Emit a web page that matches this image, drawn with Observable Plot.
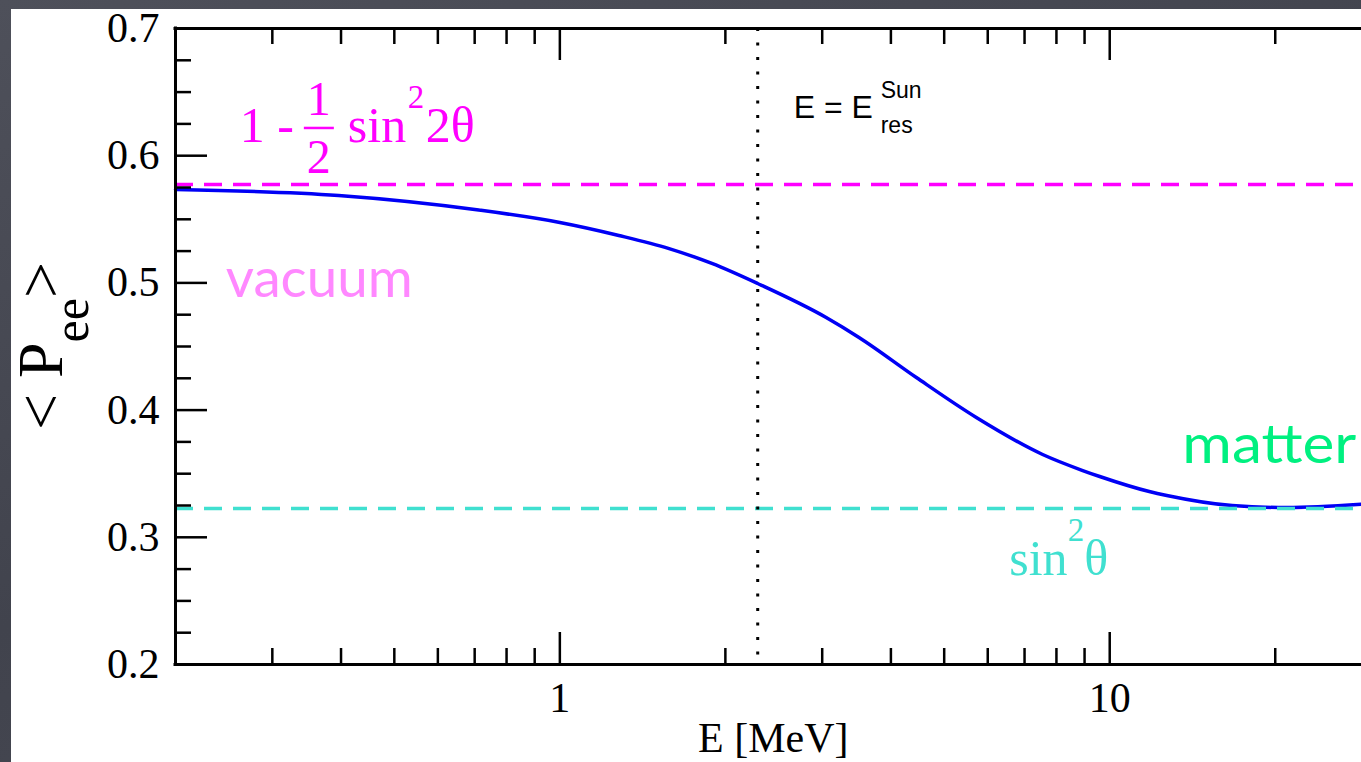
<!DOCTYPE html>
<html>
<head>
<meta charset="utf-8">
<script src="https://cdn.jsdelivr.net/npm/d3@7"></script>
<script src="https://cdn.jsdelivr.net/npm/@observablehq/plot@0.6"></script>
<style>
  html, body { margin: 0; padding: 0; width: 1361px; height: 762px; overflow: hidden; }
  body { background: linear-gradient(160deg, #4e505a 0%, #41434d 50%, #4a4c56 100%); position: relative; }
  #panel { position: absolute; left: 11px; top: 9px; width: 1350px; height: 753px; background: #ffffff; }
  #panel svg { display: block; }
</style>
</head>
<body>
<div id="panel"></div>
<script>
// ---- data ----
const energy = [0.2, 0.396, 0.712, 1.0, 1.28, 1.58, 1.89, 2.29, 3.05, 3.5, 4.45, 5.72, 7.55, 8.93, 9.59, 11.8, 12.7, 16.7, 21.0, 28.7];
const survival = [0.5734, 0.5687, 0.5573, 0.5475, 0.5373, 0.5270, 0.5153, 0.4995, 0.4728, 0.4571, 0.4256, 0.3942, 0.3651, 0.3525, 0.3478, 0.3360, 0.3329, 0.3250, 0.3234, 0.3260];
const vacuumLevel = [0.5774];      // 1 - 1/2 sin^2 2θ
const matterLevel = [0.3226];      // sin^2 θ
const resonanceEnergy = [2.29];    // E = E_res^Sun
const xDomain = [0.2, 28.7];
const xFullDomain = [0.2, 30];
const yDomain = [0.2, 0.7];
const xTicksMajor = [1, 10];
const xTicksMinor = [0.3, 0.4, 0.5, 0.6, 0.7, 0.8, 0.9, 2, 3, 4, 5, 6, 7, 8, 9, 20];
const yTicksMajor = [0.2, 0.3, 0.4, 0.5, 0.6, 0.7];
const yTicksMinor = [0.225, 0.25, 0.275, 0.325, 0.35, 0.375, 0.425, 0.45, 0.475, 0.525, 0.55, 0.575, 0.625, 0.65, 0.675];
// annotation anchors [E, P]
const formulaAnchor = [0.2624, 0.6104];
const vacuumAnchor = [0.2474, 0.4885];
const matterAnchor = [13.58, 0.358];
const sinAnchor = [6.58, 0.270];
const resAnchor = [2.668, 0.6292];

const W = 1350, H = 753;
const mL = 164, mR = 0, mT = 19, mB = 98;
const plotW = W - mL - mR, plotH = H - mT - mB;
const majorLen = 32, minorLen = 16;

const curve = energy.map((e, i) => ({E: e, P: survival[i]}));

const plot = Plot.plot({
  width: W, height: H,
  marginLeft: mL, marginRight: mR, marginTop: mT, marginBottom: mB,
  style: {fontFamily: "'Liberation Serif', 'Times New Roman', serif", background: "transparent", overflow: "visible"},
  x: {type: "log", domain: xDomain},
  y: {domain: yDomain},
  marks: [
    Plot.line(curve, {x: "E", y: "P", stroke: "#0000f5", strokeWidth: 3.5, curve: "monotone-x"}),
    Plot.ruleY(vacuumLevel, {y: d => d, stroke: "#ff00ff", strokeWidth: 3.5, strokeDasharray: "18,11"}),
    Plot.ruleY(matterLevel, {y: d => d, stroke: "#40e0d0", strokeWidth: 3.5, strokeDasharray: "18,11"}),
    Plot.ruleX(resonanceEnergy, {x: d => d, stroke: "#000", strokeWidth: 3, strokeDasharray: "3,11.5"}),
    // inward ticks: bottom, top, left
    Plot.tickX(xTicksMinor, {x: d => d, insetTop: plotH - minorLen, stroke: "#000", strokeWidth: 2.5}),
    Plot.tickX(xTicksMinor, {x: d => d, insetBottom: plotH - minorLen, stroke: "#000", strokeWidth: 2.5}),
    Plot.tickX(xTicksMajor, {x: d => d, insetTop: plotH - majorLen, stroke: "#000", strokeWidth: 2.5}),
    Plot.tickX(xTicksMajor, {x: d => d, insetBottom: plotH - majorLen, stroke: "#000", strokeWidth: 2.5}),
    Plot.tickY(yTicksMinor, {y: d => d, insetRight: plotW - minorLen, stroke: "#000", strokeWidth: 2.5}),
    Plot.tickY(yTicksMajor, {y: d => d, insetRight: plotW - majorLen, stroke: "#000", strokeWidth: 2.5}),
    // frame (left, bottom, top)
    Plot.ruleX(xDomain.slice(0, 1), {x: d => d, stroke: "#000", strokeWidth: 3, strokeLinecap: "square"}),
    Plot.ruleY(yDomain, {y: d => d, stroke: "#000", strokeWidth: 3, strokeLinecap: "square"}),
    // tick labels
    Plot.axisX(xTicksMajor, {anchor: "bottom", tickSize: 0, tickPadding: 18, fontSize: 42, label: null, tickFormat: d => String(d)}),
    Plot.axisY(yTicksMajor, {anchor: "left", tickSize: 0, tickPadding: 16, fontSize: 42, label: null, tickFormat: d => d.toFixed(1)})
  ]
});

document.getElementById("panel").appendChild(plot);

// ---- annotations (positioned through the plot's scales) ----
const xs = plot.scale("x"), ys = plot.scale("y");
const svg = d3.select(plot);
const serif = "'Liberation Serif', 'Times New Roman', serif";
const sans = "'Liberation Sans', Arial, sans-serif";
const comic = "'Comic Sans MS', 'Lato', sans-serif";
const px = a => [xs.apply(a[0]), ys.apply(a[1])];
const layer = svg.append("g").attr("text-anchor", "start");

// 1 - 1/2 sin^2 2θ
{
  const [ax, ay] = px(formulaAnchor);
  const g = layer.append("g").attr("fill", "#ff00ff").attr("font-family", serif).attr("font-size", 50);
  g.append("text").attr("x", ax).attr("y", ay).text("1 -");
  g.append("text").attr("x", ax + 79).attr("y", ay - 27).attr("text-anchor", "middle").attr("font-size", 48).text("1");
  g.append("line").attr("x1", ax + 64).attr("x2", ax + 94).attr("y1", ay - 14).attr("y2", ay - 14)
    .attr("stroke", "#ff00ff").attr("stroke-width", 2.5);
  g.append("text").attr("x", ax + 79).attr("y", ay + 31).attr("text-anchor", "middle").attr("font-size", 48).text("2");
  g.append("text").attr("x", ax + 108).attr("y", ay).text("sin");
  g.append("text").attr("x", ax + 168).attr("y", ay - 34).attr("font-size", 33).text("2");
  g.append("text").attr("x", ax + 186).attr("y", ay).text("2θ");
}

// vacuum / matter
{
  const [vx, vy] = px(vacuumAnchor);
  layer.append("text").attr("x", vx).attr("y", vy).attr("fill", "#ff88ff").attr("font-family", comic)
    .attr("font-size", 54).attr("textLength", 187).attr("lengthAdjust", "spacingAndGlyphs").text("vacuum");
  const [mx, my] = px(matterAnchor);
  layer.append("text").attr("x", mx).attr("y", my).attr("fill", "#00f080").attr("font-family", comic)
    .attr("font-size", 54).attr("textLength", 174).attr("lengthAdjust", "spacingAndGlyphs").text("matter");
}

// sin^2 θ
{
  const [sx, sy] = px(sinAnchor);
  const t = layer.append("text").attr("x", sx).attr("y", sy).attr("fill", "#40e0d0").attr("font-family", serif).attr("font-size", 50);
  t.append("tspan").text("sin");
  t.append("tspan").attr("font-size", 33).attr("dy", -34).text("2");
  t.append("tspan").attr("dy", 34).text("θ");
}

// E = E_res^Sun
{
  const [rx, ry] = px(resAnchor);
  const g = layer.append("g").attr("fill", "#000").attr("font-family", sans);
  g.append("text").attr("x", rx).attr("y", ry).attr("font-size", 32).text("E = E");
  g.append("text").attr("x", rx + 87).attr("y", ry - 20).attr("font-size", 23).text("Sun");
  g.append("text").attr("x", rx + 87).attr("y", ry + 15).attr("font-size", 23).text("res");
}

// axis titles
{
  const cx = xs.apply(Math.sqrt(xFullDomain[0] * xFullDomain[1]));
  svg.append("text").attr("x", cx).attr("y", H - 10).attr("text-anchor", "middle")
    .attr("font-family", serif).attr("font-size", 42).attr("fill", "#000").text("E [MeV]");
  const cy = mT + plotH / 2;
  const t = svg.append("text").attr("transform", `translate(51,${cy}) rotate(-90)`).attr("text-anchor", "middle")
    .attr("font-family", serif).attr("font-size", 64).attr("fill", "#000");
  t.append("tspan").text("< P");
  t.append("tspan").attr("font-size", 50).attr("dy", 26).text("ee");
  t.append("tspan").attr("dy", -26).text(">");
}
</script>
</body>
</html>
